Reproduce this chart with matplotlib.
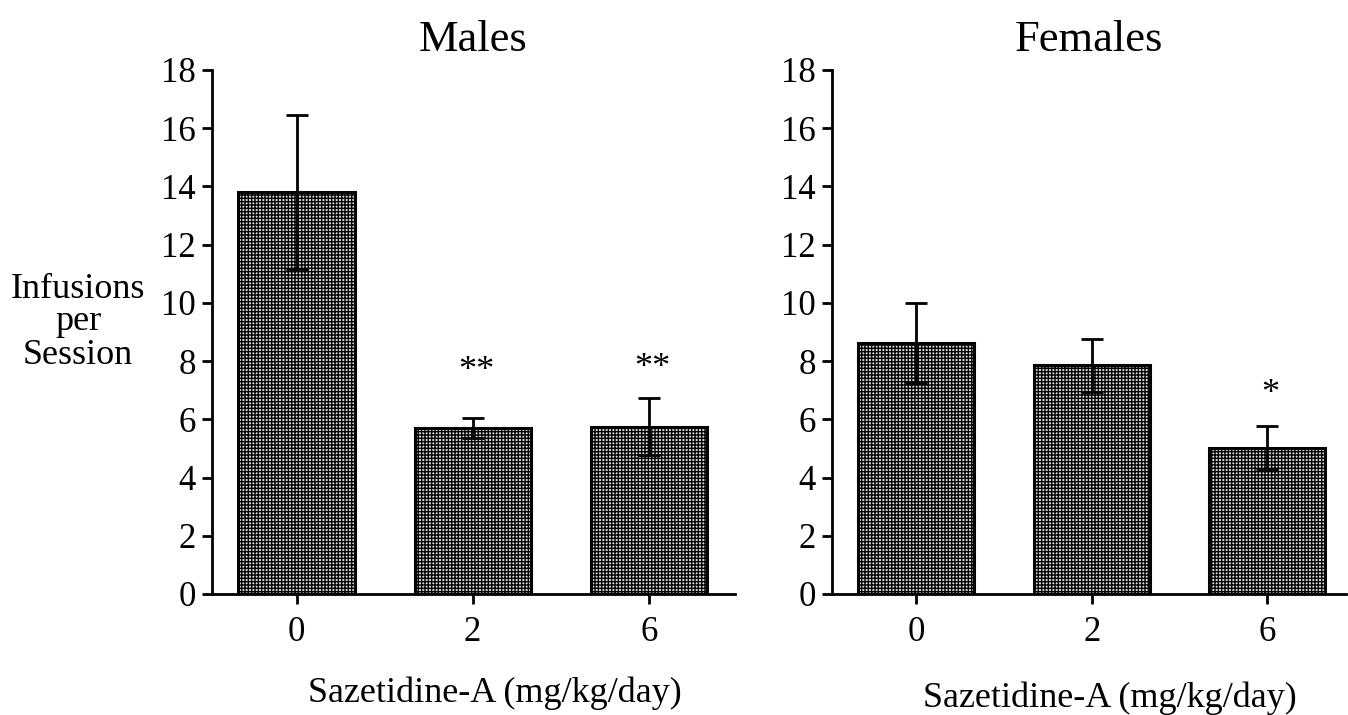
import matplotlib
matplotlib.use('Agg')
import matplotlib.pyplot as plt

plt.rcParams['font.family'] = ['Liberation Serif', 'DejaVu Serif']
plt.rcParams['hatch.color'] = '#333333'
plt.rcParams['hatch.linewidth'] = 1.0

doses = ['0', '2', '6']
male_means = [13.8, 5.7, 5.75]
male_sem = [2.65, 0.35, 0.98]
female_means = [8.62, 7.85, 5.02]
female_sem = [1.38, 0.9, 0.75]
male_stars = ['', '**', '**']
female_stars = ['', '', '*']
male_star_y = [0, 7.35, 7.45]
female_star_y = [0, 0, 6.55]

W, H = 1348, 715
fig = plt.figure(figsize=(W / 100, H / 100), dpi=100)

def px_axes(x0, x1, ytop, ybot):
    return fig.add_axes([x0 / W, 1 - ybot / H, (x1 - x0) / W, (ybot - ytop) / H])

ax_m = px_axes(212, 735, 70, 594)
ax_f = px_axes(832, 1346, 70, 594)

def panel(ax, means, sem, stars, star_y, title, xmax):
    x = list(range(len(doses)))
    ax.bar(x, means, width=0.66, facecolor='#dcdcdc', edgecolor='black',
           linewidth=2.2, hatch='+++++', zorder=2)
    ax.errorbar(x, means, yerr=sem, fmt='none', ecolor='black', elinewidth=2,
                capsize=8, capthick=2, zorder=3)
    for xi, s, sy in zip(x, stars, star_y):
        if s:
            ax.text(xi + 0.02, sy, s, ha='center', va='baseline', fontsize=26)
    ax.set_xlim(-0.48, xmax)
    ax.set_ylim(0, 18)
    ax.set_yticks(range(0, 19, 2))
    ax.set_xticks(x)
    ax.set_xticklabels(doses)
    for s in ['top', 'right']:
        ax.spines[s].set_visible(False)
    for s in ['left', 'bottom']:
        ax.spines[s].set_linewidth(2)
    ax.tick_params(axis='both', labelsize=25, width=2, length=7.5, pad=4)
    ax.tick_params(axis='x', pad=8)
    ax.set_title(title, fontsize=32, pad=14)
    ax.set_xlabel('Sazetidine-A (mg/kg/day)', fontsize=26, labelpad=20)
    ax.xaxis.label.set_x(0.54)

panel(ax_m, male_means, male_sem, male_stars, male_star_y, 'Males', 2.49)
panel(ax_f, female_means, female_sem, female_stars, female_star_y, 'Females', 2.45)
ax_f.xaxis.labelpad = 24

fig.text(78 / W, 1 - 322 / H, 'Infusions\nper\nSession', ha='center', va='center',
         fontsize=26, linespacing=1.0)

fig.savefig('out.png', dpi=100)
